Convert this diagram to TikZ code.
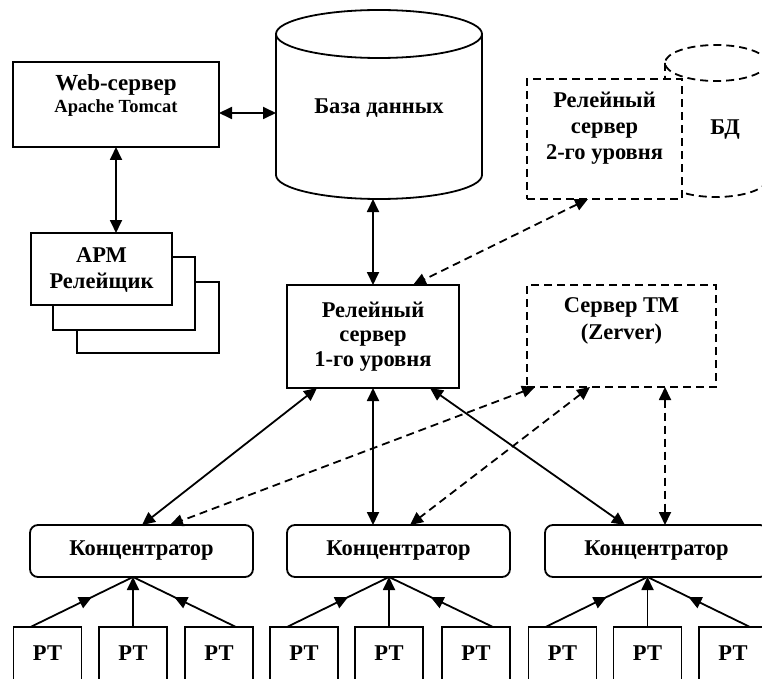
\documentclass[tikz,border=0pt]{standalone}
\usepackage{fontspec}
\setmainfont{Liberation Serif}
\usetikzlibrary{arrows.meta,decorations.markings,calc}
\begin{document}
\begin{tikzpicture}[x=1pt,y=-1pt,
  >={Triangle[length=13pt,width=12pt]},
  font=\bfseries\fontsize{22.5}{24.5}\selectfont,
  every node/.style={inner sep=0pt, outer sep=0pt},
  lw/.style={line width=1.8pt},
  dsh/.style={dash pattern=on 8pt off 5pt},
  box/.style={draw, fill=white, line width=1.8pt},
  dbox/.style={box, dsh},
  conc/.style={box, rounded corners=8pt, minimum width=223pt, minimum height=52pt},
  ptb/.style={box, minimum width=68pt, minimum height=53pt},
  arr/.style={<->, line width=1.8pt},
  darr/.style={<->, line width=1.8pt, dsh},
  midarr/.style={line width=1.8pt, postaction={decorate},
    decoration={markings, mark=at position 0.6 with {\arrow{>}}}}]
\useasboundingbox (0,0) rectangle (762,679);

% Web server
\node[box, minimum width=206pt, minimum height=85pt] (web) at (116,104.5) {};
\node (webt1) at (116,85) {\fontsize{23}{26}\selectfont Web-сервер};
\node (webt2) at (116,108) {\fontsize{18.5}{22}\selectfont Apache Tomcat};

% APM stack
\node[box, minimum width=142pt, minimum height=71pt] (apm3) at (148,317.5) {};
\node[box, minimum width=142pt, minimum height=73pt] (apm2) at (124,293.5) {};
\node[box, minimum width=141pt, minimum height=72pt] (apm) at (101.5,269) {};
\node[align=center, font=\bfseries\fontsize{22.5}{26}\selectfont] (apmt) at (101.5,270) {АРМ\\Релейщик};

% Main database cylinder
\draw[lw] (276,34) -- (276,175) arc[start angle=180,end angle=360,x radius=103pt,y radius=24pt] -- (482,34);
\draw[lw] (379,34) ellipse[x radius=103pt, y radius=24pt];
\node[minimum width=206pt, minimum height=189pt] (db) at (379,104.5) {};
\node (dbt) at (379,108) {База данных};

% BD cylinder (dashed)
\draw[lw,dsh] (716,63) ellipse[x radius=51pt,y radius=18pt];
\draw[lw,dsh] (665,63) -- (665,179) arc[start angle=180,end angle=360,x radius=51pt,y radius=18pt] -- (767,63);
\node (bdt) at (725,130) {БД};

% Relay server level 2
\node[dbox, minimum width=155pt, minimum height=120pt] (r2) at (604.5,139) {};
\node[align=center, font=\bfseries\fontsize{22.5}{26}\selectfont] (r2t) at (604.5,128) {Релейный\\сервер\\2-го уровня};

% Relay server level 1
\node[box, minimum width=172pt, minimum height=103pt, align=center] (r1) at (373,336.5) {Релейный\\сервер\\1-го уровня};

% TM server
\node[dbox, minimum width=189pt, minimum height=102pt] (tm) at (621.5,336) {};
\node[align=center, font=\bfseries\fontsize{22.5}{27}\selectfont] (tmt) at (621.5,321) {Сервер ТМ\\(Zerver)};

% Concentrators
\node[conc] (c1) at (141.5,551) {Концентратор};
\node[conc] (c2) at (398.5,551) {Концентратор};
\node[conc] (c3) at (656.5,551) {Концентратор};

% PT boxes
\foreach \i/\x in {1/47.5,2/133,3/219,4/304,5/389,6/476,7/562.5,8/647.5,9/733}
  \node[ptb] (p\i) at (\x,653.5) {РТ};

\coordinate (k1) at (p2.north |- c1.south);
\coordinate (k2) at (p5.north |- c2.south);
\coordinate (k3) at (p8.north |- c3.south);

\foreach \k/\a/\b/\c in {k1/p1/p2/p3, k2/p4/p5/p6, k3/p7/p8/p9} {
  \draw[midarr] ($(\a.north west)!0.25!(\a.north east)$) -- (\k);
  \draw[lw,->] (\b.north) -- (\k);
  \draw[midarr] ($(\c.north west)!0.75!(\c.north east)$) -- (\k);
}

% Upper connectors
\coordinate (wdb) at ([yshift=-8.5pt]web.east);
\draw[arr] (wdb) -- (wdb -| db.west);
\draw[arr] (web.south) -- (web.south |- apm.north);
\draw[arr] (db.south -| r1.north) -- (r1.north);
\draw[darr] ([xshift=-16.5pt]r2.south) -- ([xshift=40pt]r1.north);

% Lower connectors
\draw[arr] ([xshift=30pt]r1.south west) -- ([xshift=0.5pt]c1.north);
\draw[arr] (r1.south) -- (r1.south |- c2.north);
\draw[arr] ([xshift=-29pt]r1.south east) -- ([xshift=-31.5pt]c3.north);
\draw[darr] ([xshift=8pt]tm.south west) -- ([xshift=28.5pt]c1.north);
\draw[darr] ([xshift=63pt]tm.south west) -- ([xshift=11.5pt]c2.north);
\coordinate (tmv) at ([xshift=43.5pt]tm.south);
\draw[darr] (tmv) -- (tmv |- c3.north);
\end{tikzpicture}
\end{document}
